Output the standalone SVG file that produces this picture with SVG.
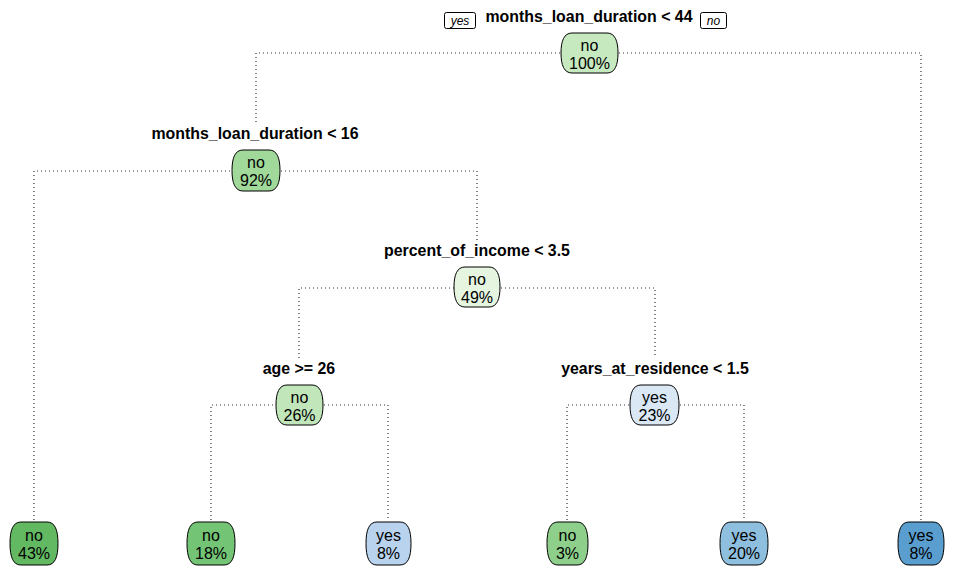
<svg xmlns="http://www.w3.org/2000/svg" width="963" height="573" viewBox="0 0 963 573">
<style>
.lbl{font-family:"Liberation Sans",Arial,sans-serif;font-weight:bold;font-size:15.9px;fill:#000;text-anchor:middle}
.nt{font-family:"Liberation Sans",Arial,sans-serif;font-size:16px;fill:#000;text-anchor:middle}
.tag{font-family:"Liberation Sans",Arial,sans-serif;font-style:italic;font-size:12px;fill:#000;text-anchor:middle}
.box{stroke:#000;stroke-width:1}
.con{fill:none;stroke:#333;stroke-width:1.2;stroke-dasharray:1 3}
</style>
<rect width="963" height="573" fill="#fff"/>
<g id="connectors">
<path class="con" d="M256,122 V53 H921 V520"/>
<path class="con" d="M34,520 V171 H477 V240"/>
<path class="con" d="M299,358 V288 H655 V358"/>
<path class="con" d="M211,520 V405 H388 V520"/>
<path class="con" d="M567,520 V405 H744 V520"/>
</g>
<g id="root">
<text class="lbl" x="589" y="22">months_loan_duration &lt; 44</text>
<rect x="444.5" y="12.5" width="31" height="16" rx="2" fill="#fff" stroke="#000"/>
<text class="tag" x="460" y="25">yes</text>
<rect x="700.5" y="12.5" width="26" height="16" rx="2" fill="#fff" stroke="#000"/>
<text class="tag" x="713.5" y="25">no</text>
<path class="box" fill="#C7E9C0" d="M572,33 H607 C615,33 618,41 618,53 C618,65 615,73 607,73 H572 C564,73 561,65 561,53 C561,41 564,33 572,33 Z"/>
<text class="nt" x="589.5" y="51">no</text>
<text class="nt" x="589.5" y="69">100%</text>
</g>
<g id="n2">
<text class="lbl" x="255" y="139">months_loan_duration &lt; 16</text>
<path class="box" fill="#A1D99B" d="M243,150 H269 C277,150 280,158 280,170.5 C280,183 277,191 269,191 H243 C235,191 232,183 232,170.5 C232,158 235,150 243,150 Z"/>
<text class="nt" x="256" y="168">no</text>
<text class="nt" x="256" y="186">92%</text>
</g>
<g id="n3">
<text class="lbl" x="477" y="256">percent_of_income &lt; 3.5</text>
<path class="box" fill="#E5F5E0" d="M465,267 H489 C497,267 500,275 500,287 C500,299 497,307 489,307 H465 C457,307 454,299 454,287 C454,275 457,267 465,267 Z"/>
<text class="nt" x="477" y="285">no</text>
<text class="nt" x="477" y="303">49%</text>
</g>
<g id="n4">
<text class="lbl" x="299" y="374">age &gt;= 26</text>
<path class="box" fill="#C1E6BA" d="M287,385 H312 C320,385 323,393 323,405 C323,417 320,425 312,425 H287 C279,425 276,417 276,405 C276,393 279,385 287,385 Z"/>
<text class="nt" x="299.5" y="403">no</text>
<text class="nt" x="299.5" y="421">26%</text>
</g>
<g id="n5">
<text class="lbl" x="655" y="374">years_at_residence &lt; 1.5</text>
<path class="box" fill="#DAE8F5" d="M641,385 H668 C676,385 679,393 679,405 C679,417 676,425 668,425 H641 C633,425 630,417 630,405 C630,393 633,385 641,385 Z"/>
<text class="nt" x="654.5" y="403">yes</text>
<text class="nt" x="654.5" y="421">23%</text>
</g>
<g id="leaf1">
<path class="box" fill="#63B862" d="M21,522 H47 C55,522 58,530 58,543.5 C58,557 55,565 47,565 H21 C13,565 10,557 10,543.5 C10,530 13,522 21,522 Z"/>
<text class="nt" x="34" y="541">no</text>
<text class="nt" x="34" y="559">43%</text>
</g>
<g id="leaf2">
<path class="box" fill="#74C476" d="M198,522 H224 C232,522 235,530 235,543.5 C235,557 232,565 224,565 H198 C190,565 187,557 187,543.5 C187,530 190,522 198,522 Z"/>
<text class="nt" x="211" y="541">no</text>
<text class="nt" x="211" y="559">18%</text>
</g>
<g id="leaf3">
<path class="box" fill="#B9D3EE" d="M377,522 H400 C408,522 411,530 411,543.5 C411,557 408,565 400,565 H377 C369,565 366,557 366,543.5 C366,530 369,522 377,522 Z"/>
<text class="nt" x="388.5" y="541">yes</text>
<text class="nt" x="388.5" y="559">8%</text>
</g>
<g id="leaf4">
<path class="box" fill="#8ED08B" d="M558,522 H577 C585,522 588,530 588,543.5 C588,557 585,565 577,565 H558 C550,565 547,557 547,543.5 C547,530 550,522 558,522 Z"/>
<text class="nt" x="567.5" y="541">no</text>
<text class="nt" x="567.5" y="559">3%</text>
</g>
<g id="leaf5">
<path class="box" fill="#8FBFDE" d="M731,522 H757 C765,522 768,530 768,543.5 C768,557 765,565 757,565 H731 C723,565 720,557 720,543.5 C720,530 723,522 731,522 Z"/>
<text class="nt" x="744" y="541">yes</text>
<text class="nt" x="744" y="559">20%</text>
</g>
<g id="leaf6">
<path class="box" fill="#5A9ECF" d="M909,522 H933 C941,522 944,530 944,543.5 C944,557 941,565 933,565 H909 C901,565 898,557 898,543.5 C898,530 901,522 909,522 Z"/>
<text class="nt" x="921" y="541">yes</text>
<text class="nt" x="921" y="559">8%</text>
</g>
</svg>
